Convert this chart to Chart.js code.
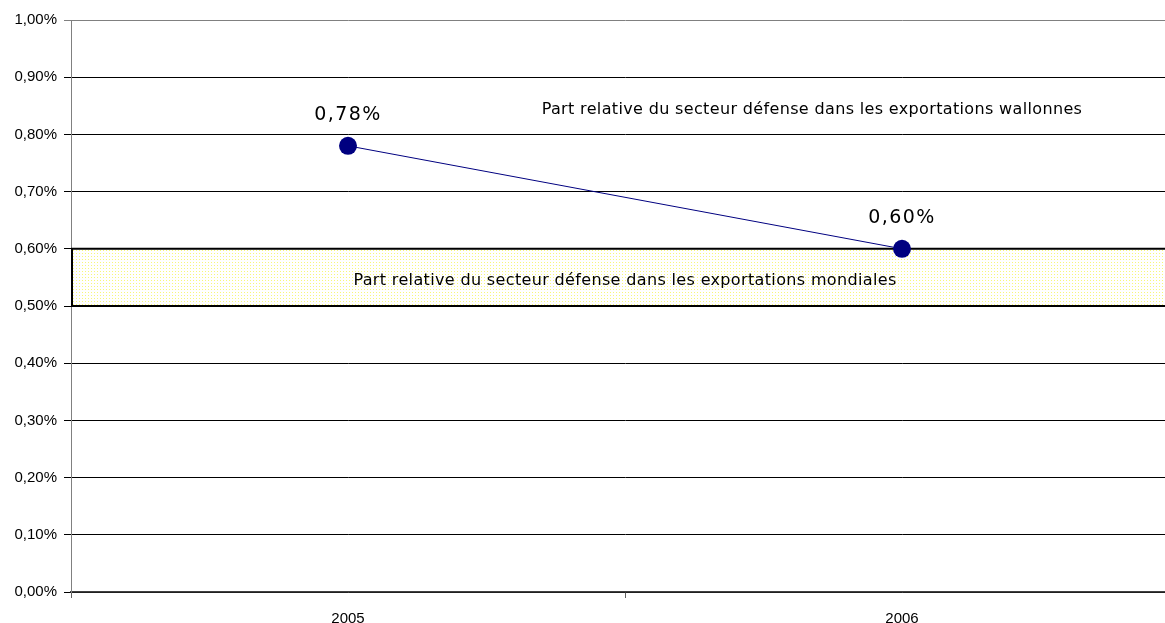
<!DOCTYPE html>
<html>
<head>
<meta charset="utf-8">
<script src="https://cdn.jsdelivr.net/npm/chart.js@4"></script>
<style>
  html, body { margin: 0; padding: 0; background: #fff; overflow: hidden; }
</style>
</head>
<body>
<canvas id="exportChart" width="1188" height="623"></canvas>
<script>
const years = ['2005', '2006'];
const walloniaShare = [0.78, 0.60];
const worldBand = [0.50, 0.60];
const walloniaTitle = 'Part relative du secteur défense dans les exportations wallonnes';
const worldTitle = 'Part relative du secteur défense dans les exportations mondiales';

function pct(v) {
    return v.toFixed(2).replace('.', ',') + '%';
}

function dotPattern() {
    const c = document.createElement('canvas');
    c.width = 3;
    c.height = 3;
    const g = c.getContext('2d');
    g.fillStyle = '#ffffff';
    g.fillRect(0, 0, 3, 3);
    g.fillStyle = '#f7f77a';
    g.fillRect(1, 1, 1, 1);
    return g.createPattern(c, 'repeat');
}

const bandPlugin = {
    id: 'band',
    beforeDatasetsDraw(chart) {
        const { ctx, chartArea, scales } = chart;
        const yLow = scales.y.getPixelForValue(worldBand[0]);
        const yHigh = scales.y.getPixelForValue(worldBand[1]);
        ctx.save();
        ctx.fillStyle = dotPattern();
        ctx.fillRect(chartArea.left, yHigh, chartArea.right - chartArea.left, yLow - yHigh);
        ctx.strokeStyle = '#000';
        ctx.lineWidth = 2;
        ctx.beginPath();
        ctx.moveTo(chartArea.left + 1, yLow);
        ctx.lineTo(chartArea.left + 1, yHigh);
        ctx.moveTo(chartArea.left, yHigh);
        ctx.lineTo(chartArea.right, yHigh);
        ctx.moveTo(chartArea.left, yLow);
        ctx.lineTo(chartArea.right, yLow);
        ctx.stroke();
        ctx.fillStyle = '#000';
        ctx.font = '16px "DejaVu Sans", Verdana, sans-serif';
        ctx.letterSpacing = '0.35px';
        ctx.textAlign = 'center';
        ctx.textBaseline = 'middle';
        ctx.fillText(worldTitle, scales.x.getPixelForValue(0.5), (yLow + yHigh) / 2 + 3);
        ctx.restore();
    },
    afterDatasetsDraw(chart) {
        const { ctx, scales } = chart;
        const meta = chart.getDatasetMeta(0);
        ctx.save();
        ctx.fillStyle = '#000';
        ctx.textAlign = 'center';
        ctx.textBaseline = 'middle';
        ctx.font = '19px "DejaVu Sans", Verdana, sans-serif';
        ctx.letterSpacing = '1.4px';
        meta.data.forEach((pt, i) => {
            ctx.fillText(pct(walloniaShare[i]), pt.x, pt.y - 31);
        });
        ctx.font = '16px "DejaVu Sans", Verdana, sans-serif';
        ctx.letterSpacing = '0.35px';
        ctx.fillText(walloniaTitle, scales.x.getPixelForValue(0.8375), scales.y.getPixelForValue(0.843));
        ctx.restore();
    }
};

const ctx = document.getElementById('exportChart');

new Chart(ctx, {
    type: 'line',
    data: {
        labels: years,
        datasets: [{
            label: walloniaTitle,
            data: walloniaShare,
            borderColor: '#000080',
            borderWidth: 1,
            backgroundColor: '#000080',
            pointRadius: 9,
            pointHoverRadius: 9,
            pointBorderWidth: 0,
            tension: 0,
        }]
    },
    options: {
        responsive: false,
        animation: false,
        layout: {
            padding: { top: 20, right: 0, bottom: 0, left: 0 }
        },
        plugins: {
            legend: { display: false },
            tooltip: { enabled: false }
        },
        scales: {
            x: {
                offset: true,
                grid: {
                    offset: true,
                    drawOnChartArea: false,
                    tickLength: 6,
                    color: '#606060'
                },
                border: { color: '#404040', width: 1.5 },
                ticks: {
                    color: '#000',
                    font: { family: '"Liberation Sans", Arial, sans-serif', size: 15 },
                    padding: 12
                },
                afterFit(scale) {
                    scale.height = 31;
                }
            },
            y: {
                min: 0,
                max: 1,
                ticks: {
                    stepSize: 0.1,
                    color: '#000',
                    font: { family: '"Liberation Sans", Arial, sans-serif', size: 15 },
                    padding: 7,
                    callback: (v) => pct(v)
                },
                grid: {
                    color: (c) => c.tick && c.tick.value === 1 ? '#808080' : '#000',
                    tickLength: 7,
                    lineWidth: 1
                },
                border: { color: '#808080', width: 1 },
                afterFit(scale) {
                    scale.width = 71;
                }
            }
        }
    },
    plugins: [bandPlugin]
});
</script>
</body>
</html>
